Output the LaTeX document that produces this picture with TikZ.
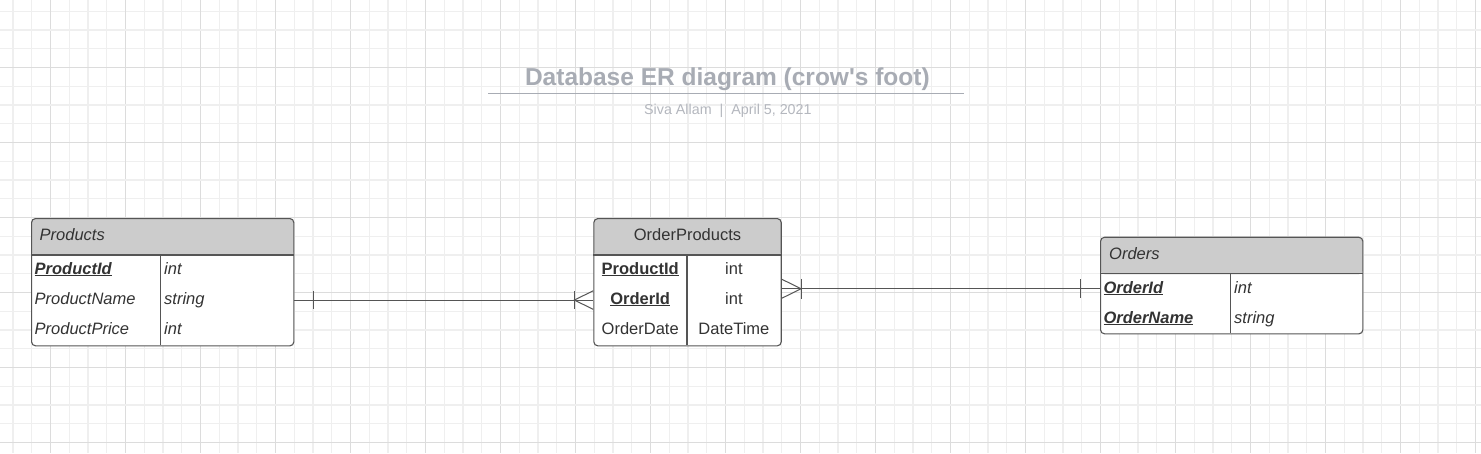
\documentclass[tikz,border=0pt]{standalone}
\usepackage{fontspec}
\setmainfont{Liberation Sans}

\definecolor{linegray}{HTML}{555555}
\definecolor{headgray}{HTML}{CCCCCC}
\definecolor{textgray}{HTML}{333333}
\definecolor{titlegray}{HTML}{A8ACB4}
\definecolor{subgray}{HTML}{B4B7BE}
\definecolor{gridlight}{HTML}{EFEFEF}
\definecolor{griddark}{HTML}{DCDCDC}

% underlined key column
\newcommand\keyline[1]{\setbox0\hbox{#1}\rlap{\rule[-2pt]{\wd0}{1.1pt}}\box0}

\tikzset{
  gridthin/.style={draw=gridlight, line width=0.8pt},
  gridwide/.style={draw=gridlight, line width=1.8pt},
  gridmajor/.style={draw=griddark, line width=0.9pt},
  entity/.style={draw=linegray, line width=1.1pt, fill=white, rounded corners=4pt,
    inner sep=0pt, anchor=north west,
    path picture={\fill[headgray] (path picture bounding box.north west)
      rectangle ([yshift=-37pt]path picture bounding box.north east);}},
  tline/.style={draw=linegray, line width=1.1pt},
  cell/.style={inner sep=0pt, anchor=base west, text=textgray,
    font=\fontsize{16.5}{20}\selectfont, text height=12pt, text depth=3.5pt},
  rel/.style={draw=linegray, line width=1pt},
}

\begin{document}
\begin{tikzpicture}[x=1pt, y=-1pt]
  \fill[white] (0,0) rectangle (1481,453);
  \useasboundingbox (0,0) rectangle (1481,453);

  % background grid
  \foreach \i in {0,...,78} \draw[gridthin] ({13+18.75*\i},0) -- ({13+18.75*\i},453);
  \foreach \i in {0,...,23} \draw[gridthin] (0,{11.25+18.75*\i}) -- (1481,{11.25+18.75*\i});
  \foreach \i in {0,...,19} {
    \draw[gridwide] ({13+75*\i},0) -- ({13+75*\i},453);
    \draw[gridmajor] ({50.5+75*\i},0) -- ({50.5+75*\i},453);
  }
  \foreach \i in {0,...,5} {
    \draw[gridwide] (0,{30+75*\i}) -- (1481,{30+75*\i});
    \draw[gridmajor] (0,{67.5+75*\i}) -- (1481,{67.5+75*\i});
  }

  % title
  \node[inner sep=0pt, anchor=base, text=titlegray, font=\fontsize{24.5}{29}\selectfont\bfseries] (title) at (727.4,85) {Database ER diagram (crow\textquotesingle s foot)};
  \draw[draw=titlegray, line width=1.4pt] (488,93.3) -- (964,93.3);
  \node[inner sep=0pt, anchor=base, text=subgray, font=\fontsize{14.3}{17}\selectfont] (subtitle) at (727.9,114) {Siva Allam~~|~~April 5, 2021};

  % Products
  \node[entity, minimum width=262.3pt, minimum height=127.3pt] (products) at (31,218) {};
  \draw[tline] ([yshift=-37pt]products.north west) -- ([yshift=-37pt]products.north east);
  \draw[tline] (160.5,255) -- (160.5,345.3);
  \node[cell] (p-title) at (39.5,240.3) {\textit{Products}};
  \node[cell] (p-id) at (34.5,274.3) {\keyline{\textbf{\textit{ProductId}}}};
  \node[cell] (p-name) at (34.5,304.3) {\textit{ProductName}};
  \node[cell] (p-price) at (34.5,334.3) {\textit{ProductPrice}};
  \node[cell] (p-idtype) at (164,274.3) {\textit{int}};
  \node[cell] (p-nametype) at (164,304.3) {\textit{string}};
  \node[cell] (p-pricetype) at (164,334.3) {\textit{int}};

  % OrderProducts
  \node[entity, minimum width=187.4pt, minimum height=127.3pt] (ordprod) at (593.3,218) {};
  \draw[tline] ([yshift=-37pt]ordprod.north west) -- ([yshift=-37pt]ordprod.north east);
  \draw[tline] (687,255) -- (687,345.3);
  \node[cell, anchor=base] (op-title) at (687.5,240) {OrderProducts};
  \node[cell, anchor=base] (op-pid) at (640.2,274.3) {\keyline{\textbf{ProductId}}};
  \node[cell, anchor=base] (op-oid) at (640.2,304.3) {\keyline{\textbf{OrderId}}};
  \node[cell, anchor=base] (op-date) at (640.2,334.3) {OrderDate};
  \node[cell, anchor=base] (op-pidtype) at (733.9,274.3) {int};
  \node[cell, anchor=base] (op-oidtype) at (733.9,304.3) {int};
  \node[cell, anchor=base] (op-datetype) at (733.9,334.3) {DateTime};

  % Orders
  \node[entity, minimum width=262.3pt, minimum height=96.6pt] (orders) at (1100,236.7) {};
  \draw[tline] ([yshift=-37pt]orders.north west) -- ([yshift=-37pt]orders.north east);
  \draw[tline] (1230.7,273.7) -- (1230.7,333.3);
  \node[cell] (o-title) at (1109,259.3) {\textit{Orders}};
  \node[cell] (o-id) at (1103.3,293) {\keyline{\textbf{\textit{OrderId}}}};
  \node[cell] (o-name) at (1103.3,323) {\keyline{\textbf{\textit{OrderName}}}};
  \node[cell] (o-idtype) at (1234,293) {\textit{int}};
  \node[cell] (o-nametype) at (1234,323) {\textit{string}};

  % Products -- OrderProducts (one to many)
  \coordinate (c1a) at (products.east |- p-name);
  \coordinate (c1b) at (ordprod.west |- p-name);
  \draw[rel] (c1a) -- (c1b);
  \draw[rel] ([xshift=19pt]c1a) ++(0,-9) -- ++(0,18);
  \draw[rel] ([yshift=9.3pt]c1b) -- ([xshift=-19pt]c1b) -- ([yshift=-9.3pt]c1b);
  \draw[rel] ([xshift=-19pt]c1b) ++(0,-9) -- ++(0,18);

  % OrderProducts -- Orders (many to one)
  \coordinate (c2a) at (ordprod.east |- o-id);
  \coordinate (c2b) at (orders.west |- o-id);
  \draw[rel] (c2a) -- (c2b);
  \draw[rel] ([yshift=9.5pt]c2a) -- ([xshift=19.3pt]c2a) -- ([yshift=-9.5pt]c2a);
  \draw[rel] ([xshift=19.3pt]c2a) ++(0,-10) -- ++(0,20);
  \draw[rel] ([xshift=-20pt]c2b) ++(0,-9.5) -- ++(0,19);
\end{tikzpicture}
\end{document}
